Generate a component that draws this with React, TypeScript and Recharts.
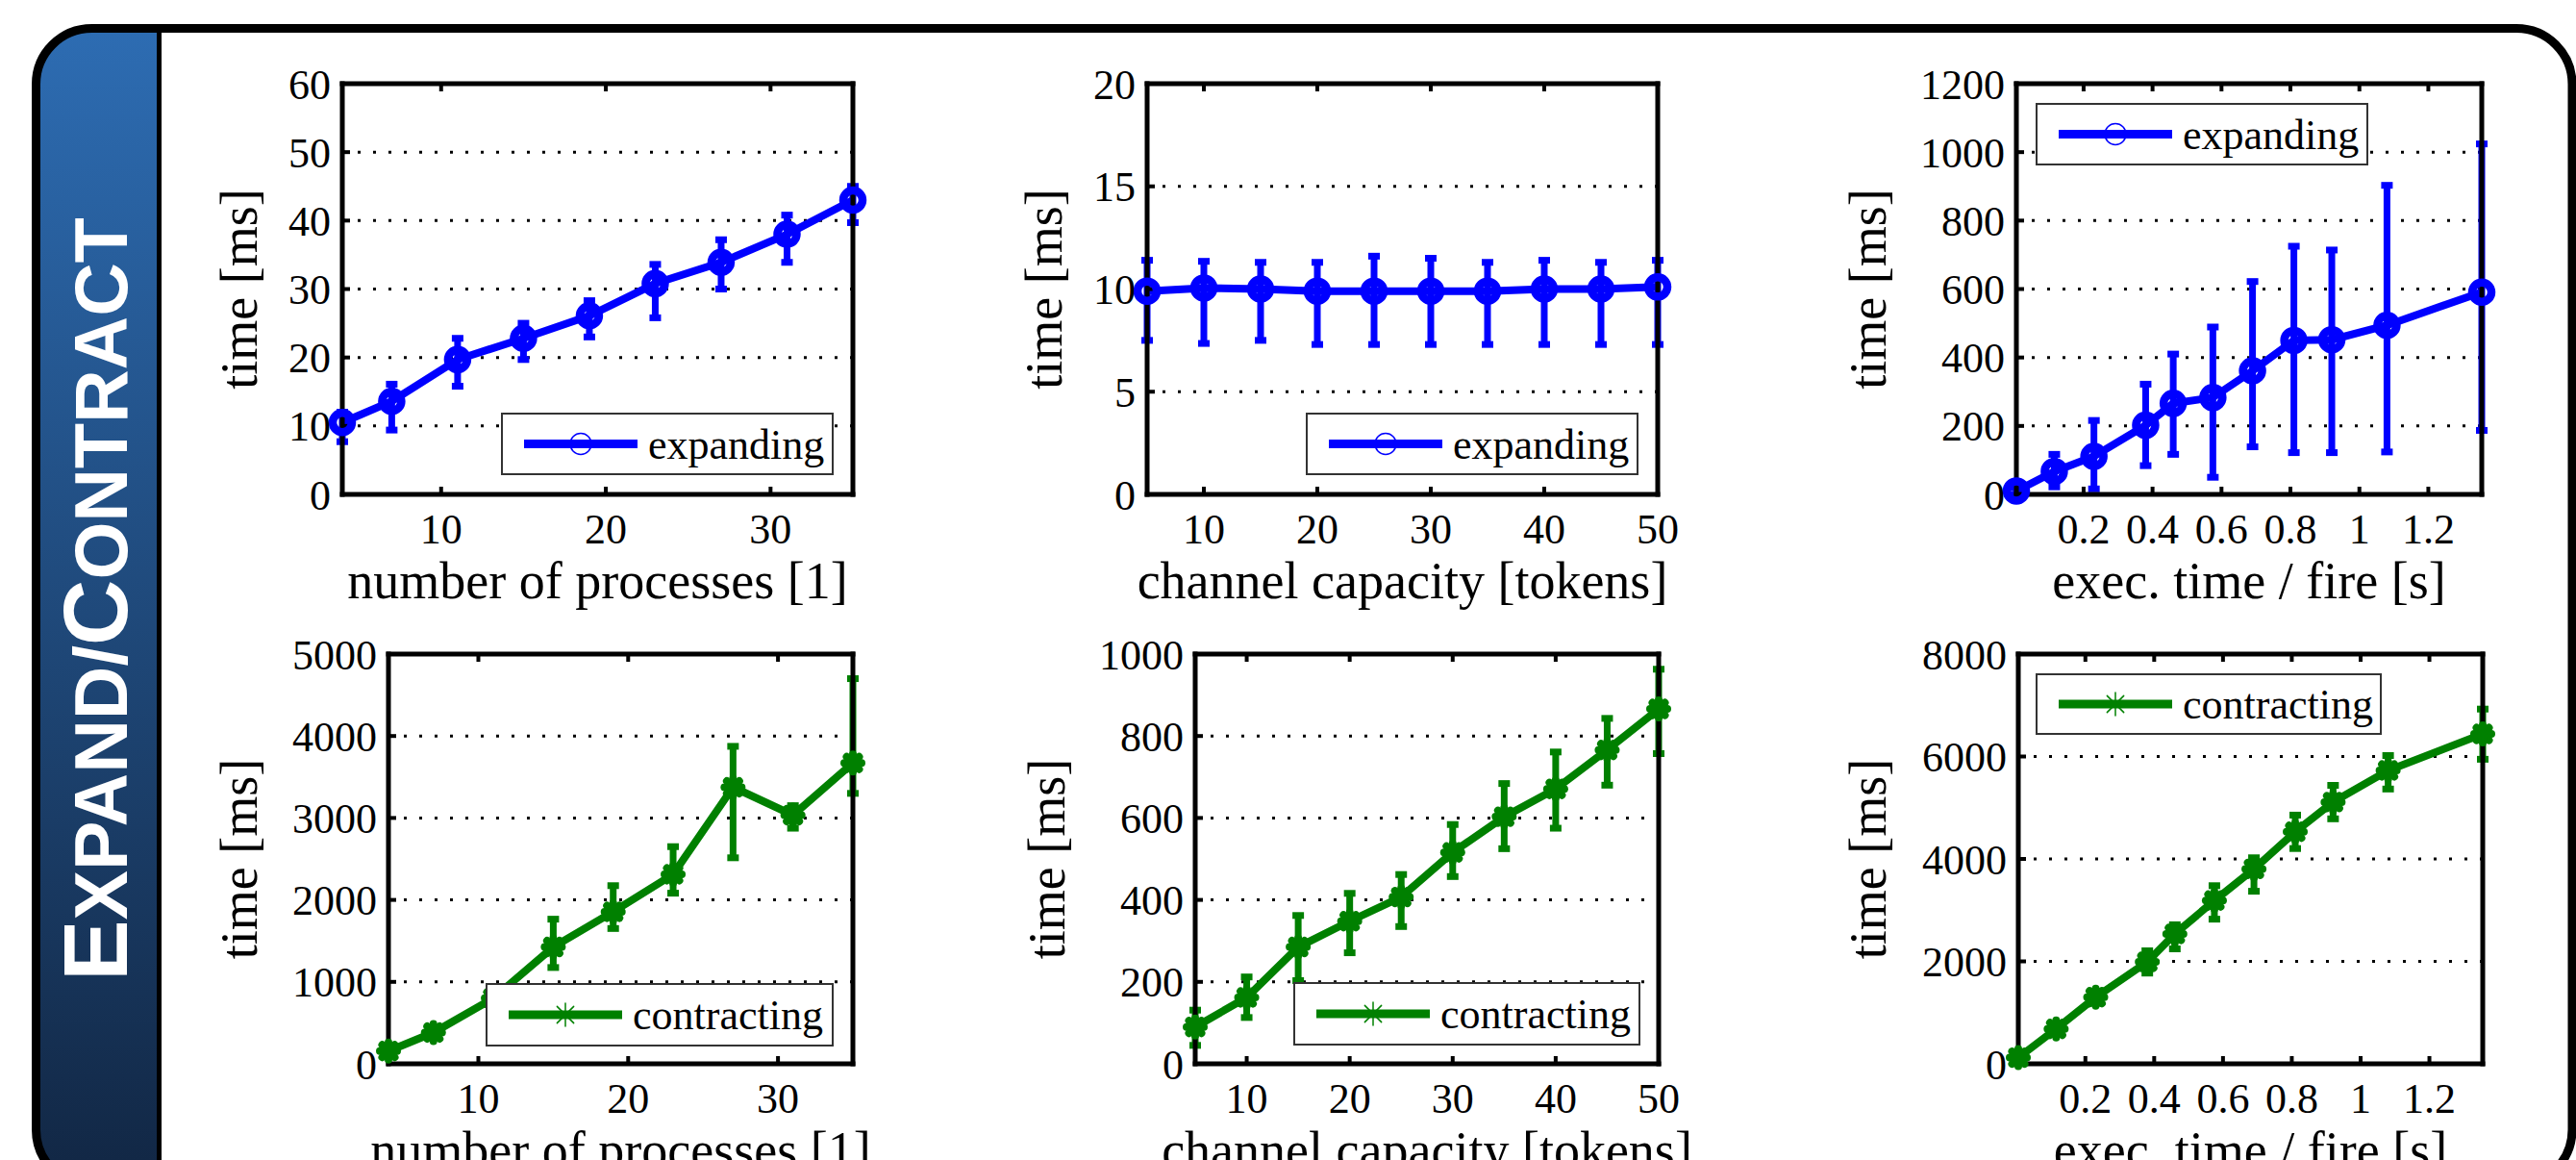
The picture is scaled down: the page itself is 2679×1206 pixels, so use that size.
import React from 'react';
import { LineChart, Line, XAxis, YAxis, CartesianGrid, ErrorBar, Legend } from 'recharts';

// x values shared by the expanding / contracting runs
const procX = [4, 7, 11, 15, 19, 23, 27, 31, 35];
const capX = [5, 10, 15, 20, 25, 30, 35, 40, 45, 50];
const execX = [0.005, 0.115, 0.23, 0.38, 0.46, 0.575, 0.69, 0.81, 0.92, 1.08, 1.355];

// expanding (blue) - mean time and [minus, plus] error
const expProcY = [10.5, 13.6, 19.7, 22.8, 26.1, 30.8, 33.9, 38.0, 43.0];
const expProcErr = [[2.8, 1.5], [4.2, 2.5], [3.9, 3.1], [3.1, 2.2], [3.1, 2.2], [5.0, 2.8], [3.9, 3.3], [4.1, 2.8], [3.3, 2.0]];
const expCapY = [9.9, 10.05, 10.0, 9.9, 9.9, 9.9, 9.9, 10.0, 10.0, 10.1];
const expCapErr = [[2.4, 1.5], [2.7, 1.3], [2.5, 1.3], [2.6, 1.4], [2.6, 1.7], [2.6, 1.6], [2.6, 1.4], [2.7, 1.4], [2.7, 1.3], [2.8, 1.3]];
const expExecY = [10, 67, 111, 202, 266, 283, 361, 450, 452, 494, 591];
const expExecErr = [[10, 10], [45, 50], [95, 105], [118, 120], [149, 144], [233, 206], [222, 261], [328, 275], [330, 262], [370, 409], [404, 433]];

// contracting (green)
const conProcY = [155, 381, 800, 1425, 1855, 2312, 3375, 3035, 3670];
const conProcErr = [[40, 40], [60, 60], [60, 60], [250, 340], [204, 319], [230, 338], [861, 499], [160, 115], [370, 1030]];
const conCapY = [90, 162, 285, 348, 407, 516, 603, 671, 766, 866];
const conCapErr = [[45, 41], [49, 50], [82, 77], [77, 68], [72, 55], [59, 68], [78, 81], [96, 90], [86, 77], [109, 97]];
const conExecY = [120, 682, 1300, 1990, 2535, 3187, 3805, 4530, 5110, 5727, 6440];
const conExecErr = [[40, 40], [100, 100], [120, 120], [219, 217], [291, 180], [363, 291], [436, 218], [327, 326], [327, 327], [362, 292], [494, 486]];

// tick labels
const procTicks = [10, 20, 30];
const capTicks = [10, 20, 30, 40, 50];
const execTicks = [0.2, 0.4, 0.6, 0.8, 1, 1.2];
const expProcYTicks = [0, 10, 20, 30, 40, 50, 60];
const expCapYTicks = [0, 5, 10, 15, 20];
const expExecYTicks = [0, 200, 400, 600, 800, 1000, 1200];
const conProcYTicks = [0, 1000, 2000, 3000, 4000, 5000];
const conCapYTicks = [0, 200, 400, 600, 800, 1000];
const conExecYTicks = [0, 2000, 4000, 6000, 8000];

const SERIF = 'Liberation Serif';
const BLUE = '#0000ff';
const GREEN = '#008000';

// space around each plot box inside its chart
const AX_L = 240;
const AX_T = 41;
const PAD_R = 40;
const AX_B = 120;

const panels = [
  { key: 'p1', left: 356, top: 87, w: 531, h: 427, xs: procX, ys: expProcY, errs: expProcErr, xTicks: procTicks, yTicks: expProcYTicks, xLabel: 'number of processes [1]', yGap: 89, name: 'expanding', legend: { x: 405, y: 383, w: 346, h: 65 } },
  { key: 'p2', left: 1193, top: 87, w: 531, h: 427, xs: capX, ys: expCapY, errs: expCapErr, xTicks: capTicks, yTicks: expCapYTicks, xLabel: 'channel capacity [tokens]', yGap: 89, name: 'expanding', legend: { x: 405, y: 383, w: 346, h: 65 } },
  { key: 'p3', left: 2097, top: 87, w: 484, h: 427, xs: execX, ys: expExecY, errs: expExecErr, xTicks: execTicks, yTicks: expExecYTicks, xLabel: 'exec. time / fire [s]', yGap: 136, name: 'expanding', legend: { x: 260, y: 61, w: 346, h: 65 } },
  { key: 'p4', left: 404, top: 680, w: 483, h: 426, xs: procX, ys: conProcY, errs: conProcErr, xTicks: procTicks, yTicks: conProcYTicks, xLabel: 'number of processes [1]', yGap: 137, name: 'contracting', legend: { x: 341, y: 383, w: 362, h: 66 } },
  { key: 'p5', left: 1243, top: 680, w: 482, h: 426, xs: capX, ys: conCapY, errs: conCapErr, xTicks: capTicks, yTicks: conCapYTicks, xLabel: 'channel capacity [tokens]', yGap: 136, name: 'contracting', legend: { x: 342, y: 382, w: 361, h: 66 } },
  { key: 'p6', left: 2099, top: 680, w: 483, h: 426, xs: execX, ys: conExecY, errs: conExecErr, xTicks: execTicks, yTicks: conExecYTicks, xLabel: 'exec. time / fire [s]', yGap: 138, name: 'contracting', legend: { x: 258, y: 61, w: 360, h: 64 } },
];

const axisLine = { stroke: '#000', strokeWidth: 5, strokeLinecap: 'square' as const };
const tickLine = { stroke: '#000', strokeWidth: 4 };
const tickFont = { fontSize: 44, fontFamily: SERIF, fill: '#000' };
const noTick = () => <g />;

const circleDot = (props: any) => {
  const { cx, cy, index } = props;
  if (cx == null || cy == null) return <g key={index} />;
  return <circle key={index} cx={cx} cy={cy} r={10} fill="none" stroke={BLUE} strokeWidth={8.5} />;
};

const Star = ({ cx, cy, r, color, sw }: any) => {
  const d = r * 0.72;
  return (
    <g stroke={color} strokeWidth={sw} strokeLinecap="round">
      <line x1={cx} y1={cy - r} x2={cx} y2={cy + r} />
      <line x1={cx - r} y1={cy} x2={cx + r} y2={cy} />
      <line x1={cx - d} y1={cy - d} x2={cx + d} y2={cy + d} />
      <line x1={cx - d} y1={cy + d} x2={cx + d} y2={cy - d} />
    </g>
  );
};

const starDot = (props: any) => {
  const { cx, cy, index } = props;
  if (cx == null || cy == null) return <g key={index} />;
  return (
    <g key={index}>
      <circle cx={cx} cy={cy} r={8} fill={GREEN} />
      <Star cx={cx} cy={cy} r={9} color={GREEN} sw={8} />
    </g>
  );
};

const makeLegend = (lg: any, fallbackName: string, fallbackColor: string) => (props: any) => {
  const item = props && props.payload && props.payload[0];
  const color = (item && item.color) || fallbackColor;
  const name = (item && item.value) || fallbackName;
  const mid = lg.h / 2;
  return (
    <svg width={lg.w} height={lg.h} style={{ display: 'block' }}>
      <rect x={1} y={1} width={lg.w - 2} height={lg.h - 2} fill="#fff" stroke="#333" strokeWidth={2} />
      <line x1={24} x2={142} y1={mid} y2={mid} stroke={color} strokeWidth={9} />
      {name === 'expanding' ? (
        <circle cx={83} cy={mid} r={11} fill="none" stroke={color} strokeWidth={1.5} />
      ) : (
        <Star cx={83} cy={mid} r={12} color={color} sw={1.5} />
      )}
      <text x={153} y={mid + 15} fontFamily={SERIF} fontSize={44} fill="#000">{name}</text>
    </svg>
  );
};

const Panel = ({ p }: any) => {
  const data = p.xs.map((x: number, i: number) => ({ x, y: p.ys[i], err: p.errs[i] }));
  const xDom = [Math.min(...p.xs), Math.max(...p.xs)];
  const yDom = [p.yTicks[0], p.yTicks[p.yTicks.length - 1]];
  const W = AX_L + p.w + PAD_R;
  const H = AX_T + p.h + AX_B;
  const color = p.name === 'expanding' ? BLUE : GREEN;

  const xLabel = (props: any) => {
    const vb = props.viewBox || props;
    const cx = vb.x + vb.width / 2;
    return (
      <text x={cx} y={vb.y + 108} textAnchor="middle" fontFamily={SERIF} fontSize={54} fill="#000">
        {p.xLabel}
      </text>
    );
  };
  const yLabel = (props: any) => {
    const vb = props.viewBox || props;
    const lx = vb.x + vb.width - p.yGap;
    const ly = vb.y + vb.height / 2;
    return (
      <text x={lx} y={ly} transform={`rotate(-90 ${lx} ${ly})`} textAnchor="middle" fontFamily={SERIF} fontSize={54} fill="#000">
        time [ms]
      </text>
    );
  };

  return (
    <div style={{ position: 'absolute', left: p.left - AX_L, top: p.top - AX_T, width: W, height: H }}>
      <LineChart width={W} height={H} data={data} margin={{ top: AX_T - 1, right: PAD_R - 1, bottom: 0, left: 40 }}>
        <CartesianGrid vertical={false} stroke="#000" strokeWidth={3} strokeDasharray="3 13" />
        <XAxis
          dataKey="x"
          type="number"
          domain={xDom}
          ticks={p.xTicks}
          interval={0}
          height={AX_B}
          tickSize={-8}
          tickMargin={28}
          axisLine={axisLine}
          tickLine={tickLine}
          tick={tickFont}
          label={xLabel}
        />
        <XAxis
          xAxisId="top"
          orientation="top"
          dataKey="x"
          type="number"
          domain={xDom}
          ticks={p.xTicks}
          interval={0}
          height={1}
          tickSize={-8}
          axisLine={axisLine}
          tickLine={tickLine}
          tick={noTick}
        />
        <YAxis
          type="number"
          domain={yDom}
          ticks={p.yTicks}
          interval={0}
          width={200}
          tickSize={-8}
          tickMargin={20}
          axisLine={axisLine}
          tickLine={tickLine}
          tick={tickFont}
          label={yLabel}
        />
        <YAxis
          yAxisId="right"
          orientation="right"
          type="number"
          domain={yDom}
          ticks={p.yTicks}
          interval={0}
          width={1}
          tickSize={-8}
          axisLine={axisLine}
          tickLine={tickLine}
          tick={noTick}
        />
        <Line
          type="linear"
          dataKey="y"
          name={p.name}
          stroke={color}
          strokeWidth={8}
          dot={p.name === 'expanding' ? circleDot : starDot}
          activeDot={false}
          isAnimationActive={false}
        >
          <ErrorBar dataKey="err" direction="y" width={6} strokeWidth={7} stroke={color} />
        </Line>
        <Legend
          layout="vertical"
          align="center"
          verticalAlign="middle"
          width={p.legend.w}
          height={p.legend.h}
          wrapperStyle={{ left: p.legend.x, top: p.legend.y, width: p.legend.w, height: p.legend.h }}
          content={makeLegend(p.legend, p.name, color)}
        />
      </LineChart>
    </div>
  );
};

const Frame = () => (
  <svg width={2679} height={1206} style={{ position: 'absolute', left: 0, top: 0 }}>
    <defs>
      <linearGradient id="sideGrad" gradientUnits="userSpaceOnUse" x1="0" y1="34" x2="0" y2="1206">
        <stop offset="0" stopColor="#2d6cb2" />
        <stop offset="1" stopColor="#122846" />
      </linearGradient>
      <clipPath id="frameClip">
        <rect x={37.5} y={29.5} width={2637.5} height={1203} rx={58} ry={58} />
      </clipPath>
    </defs>
    <rect x={37.5} y={29.5} width={2637.5} height={1203} rx={58} ry={58} fill="#fff" />
    <rect x={0} y={0} width={165.5} height={1240} fill="url(#sideGrad)" clipPath="url(#frameClip)" />
    <line x1={165.5} y1={30} x2={165.5} y2={1240} stroke="#000" strokeWidth={5} />
    <rect x={37.5} y={29.5} width={2637.5} height={1203} rx={58} ry={58} fill="none" stroke="#000" strokeWidth={9} />
    <text
      transform="translate(132 623) rotate(-90)"
      textAnchor="middle"
      fontFamily="Liberation Sans"
      fontWeight="bold"
      fill="#fff"
    >
      <tspan fontSize={95}>E</tspan>
      <tspan fontSize={77}>XPAND/</tspan>
      <tspan fontSize={95}>C</tspan>
      <tspan fontSize={77}>ONTRACT</tspan>
    </text>
  </svg>
);

const App: React.FC = () => {
  return (
    <div style={{ position: 'absolute', left: 0, top: 0, width: 2679, height: 1206, overflow: 'hidden', background: '#fff', fontFamily: SERIF }}>
      <Frame />
      {panels.map((p) => (
        <Panel key={p.key} p={p} />
      ))}
    </div>
  );
};

export default App;
